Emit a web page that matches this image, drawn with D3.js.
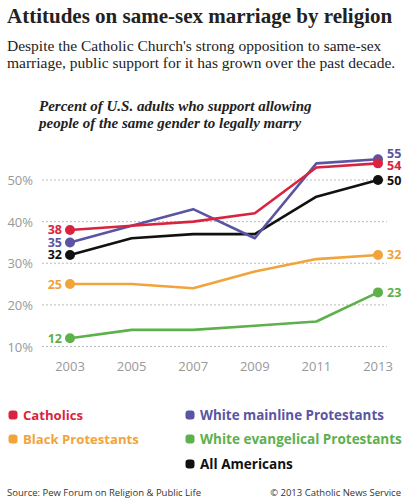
<!DOCTYPE html>
<html>
<head>
<meta charset="utf-8">
<script src="https://cdn.jsdelivr.net/npm/d3@7"></script>
<style>
  body { margin: 0; background: #fff; }
  #chart { width: 411px; height: 500px; }
</style>
</head>
<body>
<div id="chart"></div>
<script>
// data
const years = [2003, 2005, 2007, 2009, 2011, 2013];
const catholics = [38, 39, 40, 42, 53, 54];
const mainline = [35, 39, 43, 36, 54, 55];
const allAmericans = [32, 36, 37, 37, 46, 50];
const blackProt = [25, 25, 24, 28, 31, 32];
const evangelical = [12, 14, 14, 15, 16, 23];
const yTicks = [10, 20, 30, 40, 50];

const series = [
  {name: "Black Protestants", values: blackProt, color: "#f2a33a"},
  {name: "White evangelical Protestants", values: evangelical, color: "#5db04c"},
  {name: "All Americans", values: allAmericans, color: "#111111"},
  {name: "White mainline Protestants", values: mainline, color: "#5a55a2"},
  {name: "Catholics", values: catholics, color: "#d9243f"}
];

const width = 411, height = 500;
const serif = "'Liberation Serif', 'DejaVu Serif', serif";
const sans = "'Open Sans', 'Noto Sans', sans-serif";

const canvas = d3.select("#chart")
  .append("svg")
  .attr("width", width)
  .attr("height", height);

// shrink font size until the text fits a given width
function fit(sel, size, maxW) {
  sel.attr("font-size", size);
  const w = sel.node().getComputedTextLength();
  if (w > maxW) sel.attr("font-size", size * maxW / w);
  return sel;
}

/*
  TITLES
*/
canvas.append("text")
  .attr("x", 7).attr("y", 23)
  .attr("font-family", serif).attr("font-weight", "bold")
  .attr("fill", "#222")
  .text("Attitudes on same-sex marriage by religion")
  .call(fit, 21, 390);

const sub = ["Despite the Catholic Church's strong opposition to same-sex",
             "marriage, public support for it has grown over the past decade."];
sub.forEach(function(s, i) {
  canvas.append("text")
    .attr("x", 7).attr("y", 51 + i * 17)
    .attr("font-family", serif).attr("fill", "#222")
    .text(s)
    .call(fit, 15.5, i == 0 ? 376 : 390);
});

const head = ["Percent of U.S. adults who support allowing",
              "people of the same gender to legally marry"];
head.forEach(function(s, i) {
  canvas.append("text")
    .attr("x", 39).attr("y", 111 + i * 17)
    .attr("font-family", serif)
    .attr("font-weight", "bold").attr("font-style", "italic").attr("fill", "#222")
    .text(s)
    .call(fit, 15, i == 0 ? 296 : 285);
});

/*
  SCALES
*/
const xScale = d3.scalePoint()
  .domain(years)
  .range([70, 378]);

const yScale = d3.scaleLinear()
  .domain([10, 50])
  .range([346.5, 180]);

/*
  GRID + AXES
*/
canvas.append("g")
  .selectAll("line")
  .data(yTicks)
  .enter()
  .append("line")
    .attr("x1", 42).attr("x2", 387)
    .attr("y1", d => yScale(d)).attr("y2", d => yScale(d))
    .attr("stroke", "#aaa").attr("stroke-width", 0.8)
    .attr("stroke-dasharray", "2,2");

canvas.append("g")
  .selectAll("text")
  .data(yTicks)
  .enter()
  .append("text")
    .attr("x", 33).attr("y", d => yScale(d) + 5)
    .attr("text-anchor", "end")
    .attr("font-family", sans).attr("font-size", 13).attr("fill", "#999")
    .text(d => d + "%");

canvas.append("g")
  .selectAll("text")
  .data(years)
  .enter()
  .append("text")
    .attr("x", d => xScale(d)).attr("y", 371)
    .attr("text-anchor", "middle")
    .attr("font-family", sans).attr("font-size", 13).attr("fill", "#999")
    .text(d => d);

/*
  LINES + POINTS
*/
const line = d3.line()
  .x((d, i) => xScale(years[i]))
  .y(d => yScale(d));

series.forEach(function(s) {
  canvas.append("path")
    .datum(s.values)
    .attr("d", line)
    .attr("fill", "none")
    .attr("stroke", s.color)
    .attr("stroke-width", 2.6)
    .attr("stroke-linejoin", "round");
});

series.forEach(function(s) {
  const n = s.values.length - 1;
  [0, n].forEach(function(i) {
    canvas.append("circle")
      .attr("cx", xScale(years[i]))
      .attr("cy", yScale(s.values[i]))
      .attr("r", 5)
      .attr("fill", s.color);
  });
});

/*
  END LABELS
*/
const rightOffset = {"White mainline Protestants": -6, "Catholics": 2};

series.forEach(function(s) {
  const n = s.values.length - 1;
  canvas.append("text")
    .attr("x", xScale(years[0]) - 8)
    .attr("y", yScale(s.values[0]) + 4.5)
    .attr("text-anchor", "end")
    .attr("font-family", sans).attr("font-weight", "bold")
    .attr("font-size", 12.5).attr("fill", s.color)
    .text(s.values[0]);
  canvas.append("text")
    .attr("x", xScale(years[n]) + 9)
    .attr("y", yScale(s.values[n]) + 4.5 + (rightOffset[s.name] || 0))
    .attr("font-family", sans).attr("font-weight", "bold")
    .attr("font-size", 12.5).attr("fill", s.color)
    .text(s.values[n]);
});

/*
  LEGEND
*/
const legend = [
  {name: "Catholics", x: 13, y: 415, w: 60},
  {name: "White mainline Protestants", x: 190, y: 415, w: 184},
  {name: "Black Protestants", x: 13, y: 439, w: 116},
  {name: "White evangelical Protestants", x: 190, y: 439, w: 202},
  {name: "All Americans", x: 190, y: 464, w: 93}
];

legend.forEach(function(l) {
  const s = series.find(d => d.name == l.name);
  canvas.append("rect")
    .attr("x", l.x - 4.5).attr("y", l.y - 4.5)
    .attr("width", 9).attr("height", 9).attr("rx", 3)
    .attr("fill", s.color);
  canvas.append("text")
    .attr("x", l.x + 10).attr("y", l.y + 5)
    .attr("font-family", sans).attr("font-weight", "bold")
    .attr("fill", s.color)
    .text(l.name)
    .call(fit, 14.5, l.w);
});

/*
  FOOTER
*/
canvas.append("text")
  .attr("x", 7).attr("y", 496)
  .attr("font-family", sans).attr("font-size", 9.5).attr("fill", "#333")
  .text("Source: Pew Forum on Religion & Public Life");

canvas.append("text")
  .attr("x", 401).attr("y", 496)
  .attr("text-anchor", "end")
  .attr("font-family", sans).attr("font-size", 9.5).attr("fill", "#333")
  .text("© 2013 Catholic News Service");
</script>
</body>
</html>
